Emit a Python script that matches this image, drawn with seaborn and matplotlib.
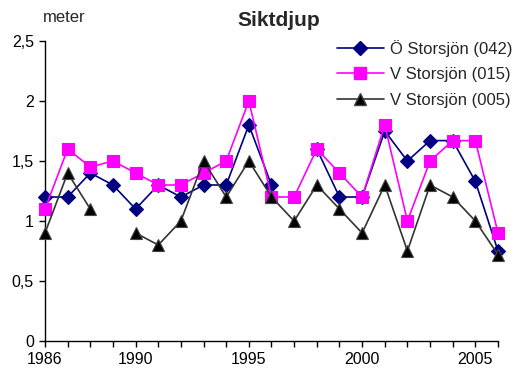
import numpy as np
import pandas as pd
import seaborn as sns
import matplotlib
matplotlib.use("Agg")
import matplotlib.pyplot as plt
from matplotlib.lines import Line2D

years = list(range(1986, 2007))
o_storsjon_042 = [1.2, 1.2, 1.4, 1.3, 1.1, 1.3, 1.2, 1.3, 1.3, 1.8, 1.3,
                  None, 1.6, 1.2, 1.2, 1.75, 1.5, 1.67, 1.67, 1.33, 0.75]
v_storsjon_015 = [1.1, 1.6, 1.45, 1.5, 1.4, 1.3, 1.3, 1.4, 1.5, 2.0, 1.2,
                  1.2, 1.6, 1.4, 1.2, 1.8, 1.0, 1.5, 1.67, 1.67, 0.9]
v_storsjon_005 = [0.9, 1.4, 1.1, None, 0.9, 0.8, 1.0, 1.5, 1.2, 1.5, 1.2,
                  1.0, 1.3, 1.1, 0.9, 1.3, 0.75, 1.3, 1.2, 1.0, 0.72]
series_names = ["Ö Storsjön (042)", "V Storsjön (015)", "V Storsjön (005)"]
y_ticks = [0, 0.5, 1, 1.5, 2, 2.5]
y_tick_labels = ["0", "0,5", "1", "1,5", "2", "2,5"]
x_tick_labels = [1986, 1990, 1995, 2000, 2005]

sns.set_theme(style="white")
plt.rcParams["font.family"] = ["Liberation Sans", "DejaVu Sans"]

fig = plt.figure(figsize=(5.17, 3.79), dpi=100)
ax = fig.add_axes([45 / 517, 1 - 341 / 379, 453 / 517, 300 / 379])


def segments(values):
    """Long table with a segment id so gaps in a series break the line."""
    rows, seg, prev = [], 0, True
    for yr, v in zip(years, values):
        if v is None:
            prev = False
            continue
        if not prev:
            seg += 1
        prev = True
        rows.append({"year": yr, "value": v, "seg": seg})
    return pd.DataFrame(rows)


styles = [
    dict(color="#000080", marker="D", markersize=7, markerfacecolor="#000080",
         markeredgecolor="#000080", lw=1.2),
    dict(color="#FF00FF", marker="s", markersize=8.5, markerfacecolor="#FF00FF",
         markeredgecolor="#FF00FF", lw=1.2),
    dict(color="#333333", marker="^", markersize=9, markerfacecolor="#000000",
         markeredgecolor="#444444", lw=1.2),
]
all_series = [o_storsjon_042, v_storsjon_015, v_storsjon_005]

# series drawn in order, later ones on top
for idx in [0, 1, 2]:
    df = segments(all_series[idx])
    st = styles[idx]
    sns.lineplot(data=df, x="year", y="value", units="seg", estimator=None,
                 ax=ax, color=st["color"], linewidth=st["lw"], marker=st["marker"],
                 markersize=st["markersize"], markerfacecolor=st["markerfacecolor"],
                 markeredgecolor=st["markeredgecolor"], markeredgewidth=0.8,
                 clip_on=False, legend=False, zorder=3 + idx)

ax.set_xlim(1986, 2006)
ax.set_ylim(0, 2.5)
ax.set_xticks(years, minor=False)
ax.set_xticklabels([str(y) if y in x_tick_labels else "" for y in years])
ax.set_yticks(y_ticks)
ax.set_yticklabels(y_tick_labels)
ax.set_xlabel("")
ax.set_ylabel("")
for s in ["top", "right"]:
    ax.spines[s].set_visible(False)
for s in ["left", "bottom"]:
    ax.spines[s].set_color("black")
    ax.spines[s].set_linewidth(1.0)
ax.tick_params(axis="both", which="major", direction="out", length=4,
               width=1.0, color="black", labelsize=11.5, labelcolor="black",
               left=True, bottom=True, pad=4)
ax.grid(False)
ax.set_facecolor("white")

fig.text(279 / 517, 1 - 20 / 379, "Siktdjup", ha="center", va="center",
         fontsize=15, fontweight="bold")
fig.text(43 / 517, 1 - 18 / 379, "meter", ha="left", va="center", fontsize=12)

handles = [Line2D([0], [0], color=st["color"], lw=st["lw"], marker=st["marker"],
                  markersize=st["markersize"], markerfacecolor=st["markerfacecolor"],
                  markeredgecolor=st["markeredgecolor"]) for st in styles]
fig.legend(handles, series_names, loc="upper left",
           bbox_to_anchor=(337 / 517, 1 - 40 / 379), frameon=False, fontsize=12,
           handlelength=2.8, handletextpad=0.35, labelspacing=0.62,
           borderpad=0, borderaxespad=0)

fig.savefig("out.png", dpi=100)
